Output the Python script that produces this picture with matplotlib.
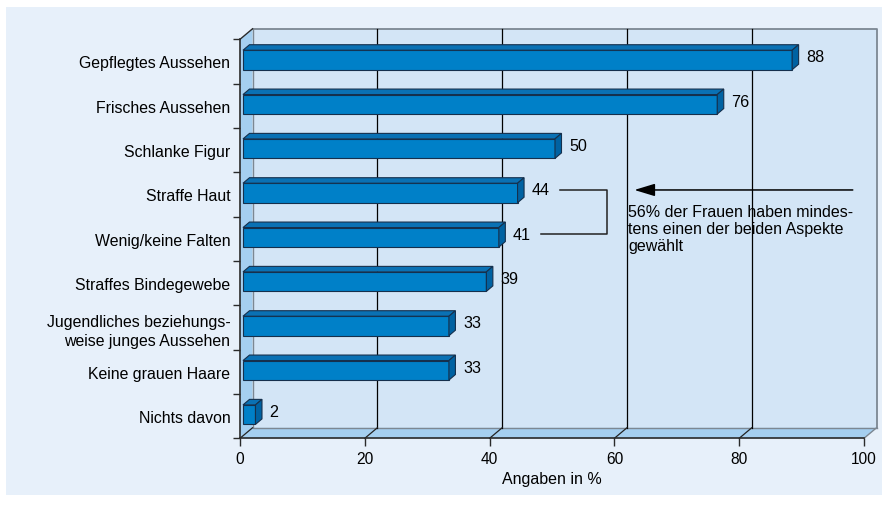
import matplotlib.pyplot as plt
from matplotlib.patches import Polygon, Rectangle

categories = ['Gepflegtes Aussehen', 'Frisches Aussehen', 'Schlanke Figur', 'Straffe Haut',
              'Wenig/keine Falten', 'Straffes Bindegewebe',
              'Jugendliches beziehungs-\nweise junges Aussehen', 'Keine grauen Haare', 'Nichts davon']
values = [88, 76, 50, 44, 41, 39, 33, 33, 2]
xticks = [0, 20, 40, 60, 80, 100]
xlabel = 'Angaben in %'
note = '56% der Frauen haben mindes-\ntens einen der beiden Aspekte\ngewählt'
bracket_pair = [3, 4]  # Straffe Haut / Wenig/keine Falten

plt.rcParams['font.family'] = ['Liberation Sans', 'DejaVu Sans']
plt.rcParams['font.size'] = 11

W, H = 888, 506
fig = plt.figure(figsize=(W / 100, H / 100), dpi=100)
fig.patches.append(Rectangle((6 / W, 1 - 496 / H), 876 / W, 488 / H, transform=fig.transFigure,
                             facecolor='#e7f0fa', edgecolor='none', zorder=-10))

# axes box in pixels (front plane)
L, R, T, B = 240, 864, 40.3, 439.3
ax = fig.add_axes([L / W, 1 - B / H, (R - L) / W, (B - T) / H])
ax.set_facecolor('none')
n = len(categories)
ax.set_xlim(0, 100)
ax.set_ylim(n - 0.5, -0.5)
ux = 100 / (R - L)
uy = n / (B - T)


def px(dx, dy):
    # pixel offset -> data offset (y axis inverted, up = negative)
    return dx * ux, -dy * uy


top, bot = -0.5, n - 0.5
wx, wy = px(12.5, 10.5)

# back wall, left wall, floor
ax.add_patch(Rectangle((wx, top + wy), 100, n, facecolor='#d3e5f6', edgecolor='none', zorder=0.5, clip_on=False))
ax.add_patch(Polygon([(0, top), (wx, top + wy), (wx, bot + wy), (0, bot)],
                     facecolor='#a5cff0', edgecolor='none', zorder=0.6, clip_on=False))
ax.add_patch(Polygon([(0, bot), (wx, bot + wy), (100 + wx, bot + wy), (100, bot)],
                     facecolor='#a5cff0', edgecolor='none', zorder=0.6, clip_on=False))
grey = '#7c8792'
ax.plot([wx, 100 + wx, 100 + wx], [top + wy, top + wy, bot + wy], color=grey, lw=1.3, zorder=0.7, clip_on=False)
ax.plot([wx, wx, 100 + wx], [top + wy, bot + wy, bot + wy], color=grey, lw=1.0, zorder=0.7, clip_on=False)
ax.plot([100, 100 + wx], [bot, bot + wy], color=grey, lw=1.0, zorder=0.7, clip_on=False)
ax.plot([0, wx], [top, top + wy], color='#2a2a2a', lw=1.0, zorder=0.8, clip_on=False)
for t in xticks[:-1]:
    if t > 0:
        ax.plot([t + wx, t + wx], [top + wy, bot + wy], color='black', lw=0.9, zorder=0.8, clip_on=False)
    ax.plot([t, t + wx], [bot, bot + wy], color='#222222', lw=0.9, zorder=0.8, clip_on=False)

# axes lines and ticks
for s in ['top', 'right']:
    ax.spines[s].set_visible(False)
for s in ['left', 'bottom']:
    ax.spines[s].set_color('#2a2a2a')
    ax.spines[s].set_linewidth(1.2)
ax.set_xticks(xticks)
ax.tick_params(axis='x', length=6, width=1, color='#2a2a2a', pad=3, labelsize=11.2)
ax.set_yticks(range(n))
ax.set_yticklabels(categories, linespacing=1.3)
ax.set_yticks([i - 0.5 for i in range(n + 1)], minor=True)
ax.tick_params(axis='y', which='major', length=0, pad=7, labelsize=11.4)
ax.tick_params(axis='y', which='minor', length=5, width=1, color='#2a2a2a')
ax.set_xlabel(xlabel, fontsize=11.5, labelpad=4)

# 3D bars
bx, by = px(3, 1.5)
h = 19.5 * uy
dx, dy = px(6.5, 5.5)
ys = [i + by for i in range(n)]
edge = '#15304d'
ax.barh(ys, values, height=h, left=bx, color='#0080c8', edgecolor=edge, lw=0.8, zorder=3)
for y, v in zip(ys, values):
    y0 = y - h / 2
    ax.add_patch(Polygon([(bx, y0), (bx + dx, y0 + dy), (bx + v + dx, y0 + dy), (bx + v, y0)],
                         facecolor='#0a71b4', edgecolor=edge, lw=0.8, zorder=3.1, clip_on=False))
    ax.add_patch(Polygon([(bx + v, y0), (bx + v + dx, y0 + dy), (bx + v + dx, y0 + h + dy), (bx + v, y0 + h)],
                         facecolor='#0062a2', edgecolor=edge, lw=0.8, zorder=3.1, clip_on=False))

# value labels
lab_dy = -3 * uy
for y, v in zip(ys, values):
    ax.text(bx + v + 14 * ux, y + lab_dy, str(v), va='center', ha='left', fontsize=11.6, zorder=5)

# bracket, arrow and note
a, b = bracket_pair
xr = 58.8
ya, yb = ys[a] + lab_dy, ys[b] + lab_dy
ax.plot([bx + values[a] + 42 * ux, xr, xr, bx + values[b] + 42 * ux], [ya, ya, yb, yb],
        color='#222222', lw=1.1, zorder=5)
ax.annotate('', xy=(63.2, ya), xytext=(98.2, ya),
            arrowprops=dict(arrowstyle='-|>,head_length=1.25,head_width=0.38', color='black',
                            lw=1.1, shrinkA=0, shrinkB=0, mutation_scale=10), zorder=5)
ax.text(62.2, a + (205 - (T + (a + 0.5) * (B - T) / n)) * uy, note, va='top', ha='left',
        fontsize=11.5, linespacing=1.15, zorder=5)

fig.savefig('out.png', dpi=100)
